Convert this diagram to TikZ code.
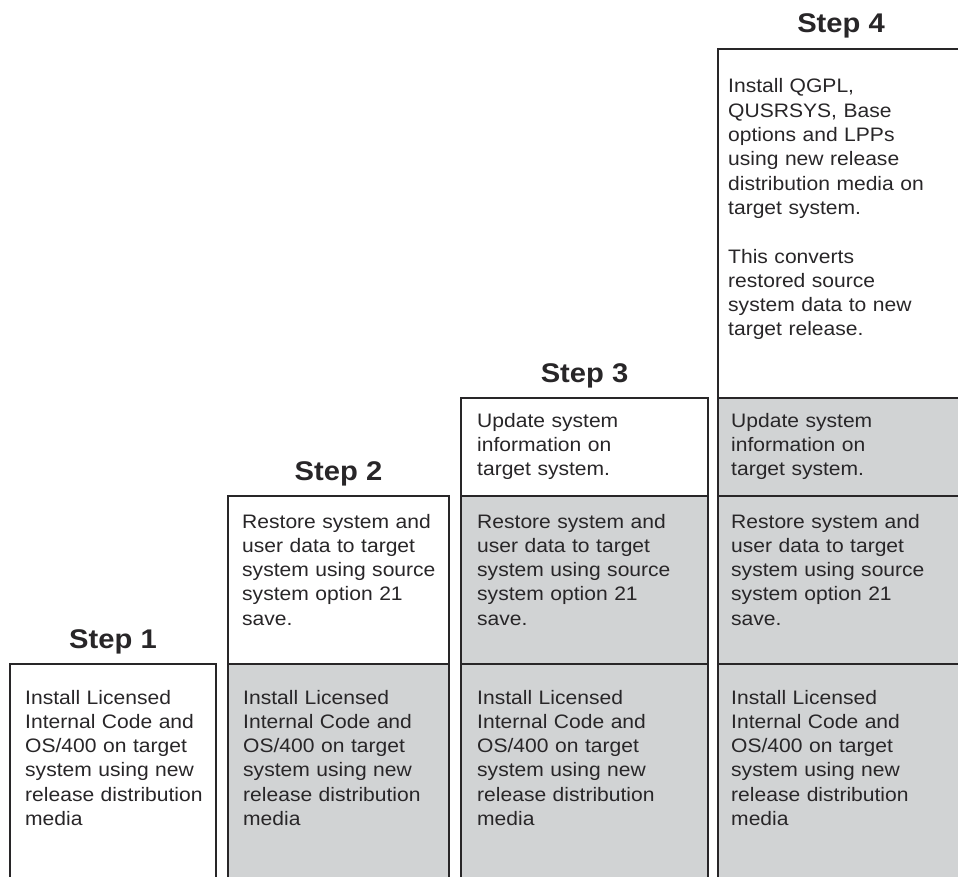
\documentclass[tikz,border=0pt]{standalone}
\usepackage{fontspec}
\setmainfont{Liberation Sans}[FakeStretch=1.08]
\usepackage{tikz}
\definecolor{stepgray}{RGB}{209,211,212}
\definecolor{inkgray}{RGB}{40,38,40}
\tikzset{
  box/.style={draw=inkgray, line width=1.4pt},
  graybox/.style={box, fill=stepgray},
  whitebox/.style={box, fill=white},
  steplabel/.style={font=\fontsize{27}{30}\selectfont\bfseries, text=inkgray, anchor=base, inner sep=0pt},
  txt/.style={font=\fontsize{19.5}{24.3}\selectfont, text=inkgray, anchor=base west, inner sep=0pt, text width=240pt, align=left}
}
\newcommand{\licinstall}{Install Licensed\\Internal Code and\\OS/400 on target\\system using new\\release distribution\\media}
\newcommand{\sysrestore}{Restore system and\\user data to target\\system using source\\system option 21\\save.}
\newcommand{\infoupdate}{Update system\\information on\\target system.}

\begin{document}
\begin{tikzpicture}[x=1pt,y=-1pt]
	\useasboundingbox (0,0) rectangle (958,877);
	\clip (0,0) rectangle (958,877);
	%%%%% START %%%%%
	% step 1
	\draw[whitebox] (10, 664) rectangle (216, 900);
	\node[steplabel] (step1) at (113, 648) {Step 1};
	\node[txt] (lic1) at (25, 704) {\licinstall};
	
	% step 2
	\draw[whitebox] (228, 496) rectangle (449, 664);
	\draw[graybox] (228, 664) rectangle (449, 900);
	\node[steplabel] (step2) at (338.5, 480) {Step 2};
	\node[txt] (res2) at (242, 528) {\sysrestore};
	\node[txt] (lic2) at (243, 704) {\licinstall};
	
	% step 3
	\draw[whitebox] (461, 398) rectangle (708, 496);
	\draw[graybox] (461, 496) rectangle (708, 664);
	\draw[graybox] (461, 664) rectangle (708, 900);
	\node[steplabel] (step3) at (584.5, 382) {Step 3};
	\node[txt] (upd3) at (477, 427) {\infoupdate};
	\node[txt] (res3) at (477, 528) {\sysrestore};
	\node[txt] (lic3) at (477, 704) {\licinstall};
	
	% step 4
	\draw[whitebox] (718, 49) rectangle (965, 398);
	\draw[graybox] (718, 398) rectangle (965, 496);
	\draw[graybox] (718, 496) rectangle (965, 664);
	\draw[graybox] (718, 664) rectangle (965, 900);
	\node[steplabel] (step4) at (841, 33) {Step 4};
	\node[txt] (inst4) at (728, 93) {Install QGPL,\\QUSRSYS, Base\\options and LPPs\\using new release\\distribution media on\\target system.\\[24.3pt]This converts\\restored source\\system data to new\\target release.};
	\node[txt] (upd4) at (731, 427) {\infoupdate};
	\node[txt] (res4) at (731, 528) {\sysrestore};
	\node[txt] (lic4) at (731, 704) {\licinstall};
	%%%%% END %%%%%
\end{tikzpicture}
\end{document}
